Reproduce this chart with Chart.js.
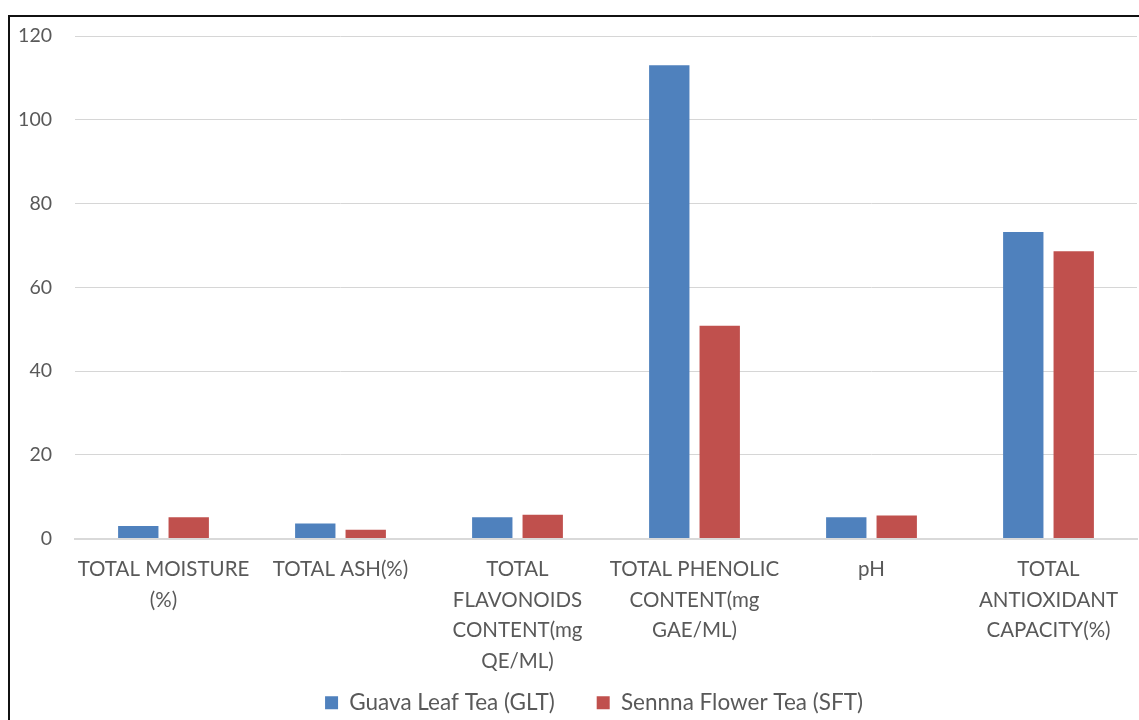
<!DOCTYPE html>
<html>
<head>
<meta charset="utf-8">
<script src="https://cdn.jsdelivr.net/npm/chart.js@4.4.1/dist/chart.umd.min.js"></script>
<style>
  html, body { margin: 0; padding: 0; background: #fff; overflow: hidden; }
  #wrap { position: relative; width: 1139px; height: 720px; overflow: hidden; }
  #frame { position: absolute; left: 8px; top: 15px; width: 1200px; height: 800px;
           border-left: 2px solid #111; border-top: 2px solid #111; }
  #box { position: absolute; left: 0; top: 0; width: 1139px; height: 720px; }
</style>
</head>
<body>
<div id="wrap">
  <div id="frame"></div>
  <div id="box"><canvas id="chart"></canvas></div>
</div>
<script>
  // categorias y valores
  const categorias = [
    ["TOTAL MOISTURE", "(%)"],
    ["TOTAL ASH(%)"],
    ["TOTAL", "FLAVONOIDS", "CONTENT(mg", "QE/ML)"],
    ["TOTAL PHENOLIC", "CONTENT(mg", "GAE/ML)"],
    ["pH"],
    ["TOTAL", "ANTIOXIDANT", "CAPACITY(%)"]
  ];
  const guava = [3.0, 3.6, 5.1, 113.0, 5.1, 73.2];
  const senna = [5.1, 2.1, 5.7, 50.8, 5.5, 68.6];
  const yTicks = [0, 20, 40, 60, 80, 100, 120];

  const gris = "#595959";
  const fuente = "Lato, 'Open Sans', sans-serif";

  // que no se recorten las etiquetas: las del eje x pasan bajo la leyenda,
  // las del eje y salen a la izquierda de su caja
  const sinRecorte = {
    id: "sinRecorte",
    afterLayout(chart) {
      chart.scales.x.bottom = chart.height;
      chart.scales.y.left = 0;
    }
  };

  new Chart(document.getElementById("chart"), {
    type: "bar",
    data: {
      labels: categorias,
      datasets: [
        { label: "Guava Leaf Tea (GLT)", data: guava, backgroundColor: "#4F81BD" },
        { label: "Sennna Flower Tea (SFT)", data: senna, backgroundColor: "#C0504D" }
      ]
    },
    options: {
      responsive: true,
      maintainAspectRatio: false,
      animation: false,
      datasets: { bar: { categoryPercentage: 0.57, barPercentage: 0.8 } },
      layout: { padding: { top: 36, right: 2, left: 51, bottom: -4 } },
      scales: {
        x: {
          grid: { display: false, drawTicks: false },
          border: { display: true, color: "#D9D9D9", width: 2 },
          ticks: {
            color: gris, padding: 16, maxRotation: 0, autoSkip: false,
            font: { family: fuente, size: 20.5, lineHeight: 1.49 }
          },
          afterFit: s => { s.height = 111; }
        },
        y: {
          min: 0, max: 120,
          afterBuildTicks: s => { s.ticks = yTicks.map(v => ({ value: v })); },
          grid: { color: "#D6D6D6", drawTicks: false },
          border: { display: false },
          ticks: {
            color: gris, padding: 23,
            font: { family: fuente, size: 19.5 }
          },
          afterFit: s => { s.width = 24; }
        }
      },
      plugins: {
        legend: {
          position: "bottom",
          labels: {
            color: gris, boxWidth: 13, boxHeight: 13, padding: 42,
            font: { family: fuente, size: 22.5 }
          }
        },
        tooltip: { enabled: false }
      }
    },
    plugins: [sinRecorte]
  });
</script>
</body>
</html>
